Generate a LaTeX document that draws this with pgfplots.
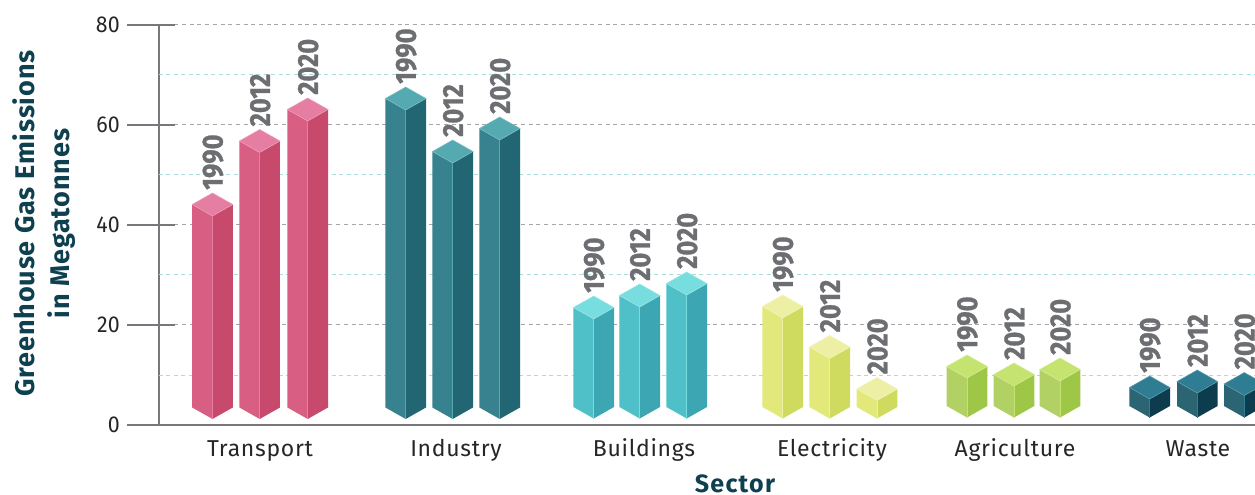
\documentclass[border=0pt]{standalone}
\usepackage{fontspec}
\setmainfont{Fira Sans}
\usepackage{pgfplots}
\pgfplotsset{compat=1.18}
\definecolor{trL}{HTML}{D85F83}\definecolor{trR}{HTML}{C74A6D}\definecolor{trT}{HTML}{E57EA2}
\definecolor{inL}{HTML}{38828F}\definecolor{inR}{HTML}{236673}\definecolor{inT}{HTML}{55A9B0}
\definecolor{buL}{HTML}{4FBFC8}\definecolor{buR}{HTML}{3CA7B3}\definecolor{buT}{HTML}{78DDDF}
\definecolor{elL}{HTML}{E2E879}\definecolor{elR}{HTML}{CFDB5F}\definecolor{elT}{HTML}{EDEFA5}
\definecolor{agL}{HTML}{B2D165}\definecolor{agR}{HTML}{9EC748}\definecolor{agT}{HTML}{C4E46F}
\definecolor{waL}{HTML}{2B6574}\definecolor{waR}{HTML}{0C3C4D}\definecolor{waT}{HTML}{2F7D92}
\definecolor{spine}{HTML}{77787B}
\definecolor{greydash}{HTML}{A5A6A8}
\definecolor{tealdash}{HTML}{A9DCDD}
\definecolor{navy}{HTML}{0F4050}
\definecolor{yeargrey}{HTML}{6D6E71}
% x, value (height of the side corners), year, colour prefix, bottom side corners
\newcommand{\cuboid}[5]{%
  \addplot[fill=#4L,draw=none] coordinates {({#1-20.3},{#2}) (#1,{#2-2.3}) (#1,{#5-2.3}) ({#1-20.3},#5)} --cycle;
  \addplot[fill=#4R,draw=none] coordinates {({#1+20.3},{#2}) (#1,{#2-2.3}) (#1,{#5-2.3}) ({#1+20.3},#5)} --cycle;
  \addplot[fill=#4T,draw=#4T!75!white,line width=0.5pt] coordinates {({#1-20.3},{#2}) (#1,{#2+2.3}) ({#1+20.3},{#2}) (#1,{#2-2.3})} --cycle;
  \addplot[draw=#4T,line width=0.5pt] coordinates {(#1,{#2-2.3}) (#1,{#5-2.3})};
  \node[rotate=90,anchor=west,inner sep=0pt,text=yeargrey,font=\fontsize{29}{29}\selectfont\bfseries\addfontfeature{FakeBold=1}]
    at (axis cs:{#1+0.5},{#2+2.9}) {\scalebox{0.88}[1]{#3}};
}
\begin{document}
\begin{tikzpicture}
\useasboundingbox (-159pt,-70pt) rectangle (1096pt,425pt);
\begin{axis}[
  at={(0pt,0pt)},anchor=origin,
  scale only axis,width=1096pt,height=400pt,
  xmin=159,xmax=1255,ymin=0,ymax=80,
  axis y line*=left,axis x line*=bottom,
  axis line style={draw=spine,line width=2pt,-},
  ytick={0,20,40,60,80},
  xtick={260,456,644,832,1015,1198},
  xticklabels={Transport,Industry,Buildings,Electricity,Agriculture,Waste},
  /pgf/number format/assume math mode=true,
  x tick style={draw=none},
  major tick length=48pt,
  tick align=center,
  y tick style={draw=spine,line width=1.6pt,xshift=-8pt},
  ymajorgrids=true,
  major grid style={draw=greydash,line width=1pt,dash pattern=on 4pt off 3.7pt},
  extra y ticks={10,30,50,70},
  extra y tick labels={},
  extra y tick style={grid=major,major tick length=0pt,
     major grid style={draw=tealdash,line width=1pt,dash pattern=on 4pt off 3.5pt}},
  yticklabel style={font=\fontsize{23}{23}\selectfont,text=black!85,anchor=east,xshift=-12pt,xscale=0.93},
  xticklabel style={font=\fontsize{23}{23}\selectfont\addfontfeature{LetterSpace=3},text=black!85,anchor=base,yshift=-7pt},
  every axis y label/.style={at={(rel axis cs:0,0.5)},rotate=90,anchor=center,yshift=115pt,xshift=1.5pt,align=center,
     font=\fontsize{27}{35}\selectfont\bfseries\addfontfeature{LetterSpace=3.3},text=navy},
  every axis x label/.style={at={(axis cs:735,0)},anchor=base,yshift=-67pt,
     font=\fontsize{25}{25}\selectfont\bfseries\addfontfeature{LetterSpace=5},text=navy},
  ylabel={Greenhouse Gas Emissions\\in Megatonnes},
  xlabel={Sector},
]
\cuboid{212.5}{44.1}{1990}{tr}{3.5}
\cuboid{259.7}{56.8}{2012}{tr}{3.5}
\cuboid{307.7}{63.1}{2020}{tr}{3.5}
\cuboid{405.7}{65.3}{1990}{in}{3.5}
\cuboid{452.7}{54.7}{2012}{in}{3.5}
\cuboid{499.7}{59.3}{2020}{in}{3.5}
\cuboid{593.7}{23.5}{1990}{bu}{3.6}
\cuboid{639.7}{25.9}{2012}{bu}{3.6}
\cuboid{686.7}{28.3}{2020}{bu}{3.6}
\cuboid{782.7}{23.7}{1990}{el}{3.6}
\cuboid{829.7}{15.6}{2012}{el}{3.6}
\cuboid{877.0}{7.2}{2020}{el}{3.6}
\cuboid{967.0}{11.7}{1990}{ag}{3.8}
\cuboid{1014.0}{10.1}{2012}{ag}{3.8}
\cuboid{1060.0}{11.1}{2020}{ag}{3.8}
\cuboid{1149.7}{7.5}{1990}{wa}{3.8}
\cuboid{1197.3}{8.7}{2012}{wa}{3.8}
\cuboid{1244.3}{8.2}{2020}{wa}{3.8}
\end{axis}
\end{tikzpicture}
\end{document}
